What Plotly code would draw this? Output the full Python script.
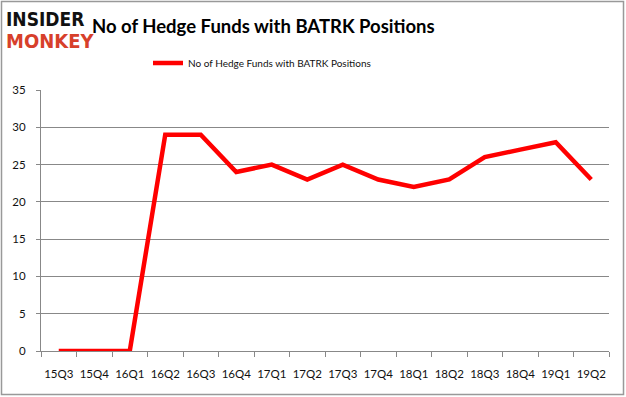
import plotly.graph_objects as go

quarters = ["15Q3", "15Q4", "16Q1", "16Q2", "16Q3", "16Q4", "17Q1", "17Q2",
            "17Q3", "17Q4", "18Q1", "18Q2", "18Q3", "18Q4", "19Q1", "19Q2"]
funds = [0, 0, 0, 29, 29, 24, 25, 23, 25, 23, 22, 23, 26, 27, 28, 23]
series_name = "No of Hedge Funds with BATRK Positions"
title_text = "No of Hedge Funds with BATRK Positions"

W, H = 626, 397
L, R, T, B = 41, 17, 90, 46
pw, ph = W - L - R, H - T - B


def px_x(x):
    return (x - L) / pw


def px_y(y):
    return (H - B - y) / ph


fig = go.Figure()
fig.add_trace(go.Scatter(
    x=quarters, y=funds, mode="lines", name=series_name,
    line=dict(color="#ff0000", width=4.5),
))

gray = "#888888"
fig.update_layout(
    width=W, height=H,
    margin=dict(l=L, r=R, t=T, b=B),
    paper_bgcolor="white", plot_bgcolor="white",
    font=dict(family="Lato, Liberation Sans, sans-serif", size=12, color="#111111"),
    showlegend=True,
    legend=dict(orientation="h", x=px_x(262), xanchor="center", y=px_y(63), yanchor="middle",
                font=dict(size=10), bgcolor="rgba(0,0,0,0)", itemwidth=30),
    title=dict(text="<b>" + title_text + "</b>", x=92 / W, xanchor="left",
               y=1 - 27 / H, yanchor="middle", font=dict(size=18.5, color="#000000")),
    xaxis=dict(type="category", range=[-0.5, len(quarters) - 0.5],
               showline=True, linecolor=gray, linewidth=1,
               ticks="outside", tickson="boundaries", ticklen=5, tickcolor=gray,
               showgrid=False, tickfont=dict(size=11.5), tickangle=0,
               ticklabelstandoff=12, fixedrange=True),
    yaxis=dict(range=[0, 35], dtick=5, showline=True, linecolor=gray, linewidth=1,
               ticks="outside", ticklen=4, tickcolor=gray,
               showgrid=True, gridcolor=gray, gridwidth=1, zeroline=False,
               tickfont=dict(size=11.5), ticklabelstandoff=8),
)

# outer border
fig.add_shape(type="rect", xref="paper", yref="paper",
              x0=px_x(1.5), x1=px_x(W - 2.5),
              y0=px_y(H - 2.5), y1=px_y(1.5),
              line=dict(color="#999999", width=1.5), layer="below")

# logo
fig.add_annotation(text="<b>INSIDER</b>", xref="paper", yref="paper",
                   x=px_x(4), y=px_y(19), xanchor="left", yanchor="middle",
                   showarrow=False,
                   font=dict(family="DejaVu Sans Condensed, DejaVu Sans, sans-serif", size=19, color="#111111"))
fig.add_annotation(text="<b>MONKEY</b>", xref="paper", yref="paper",
                   x=px_x(4), y=px_y(41), xanchor="left", yanchor="middle",
                   showarrow=False,
                   font=dict(family="DejaVu Sans Condensed, DejaVu Sans, sans-serif", size=20, color="#d7402b"))

fig.write_html("out.html", config={"displayModeBar": False},
               post_script="document.body.style.margin='0';document.body.style.padding='0';")
